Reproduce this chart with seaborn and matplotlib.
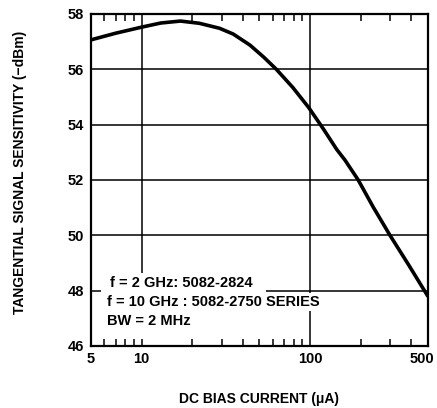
import matplotlib
matplotlib.use("Agg")
import matplotlib.pyplot as plt
import matplotlib.transforms as mtransforms
from matplotlib.patches import Rectangle
import seaborn as sns
import numpy as np
import pandas as pd
from matplotlib.ticker import FixedLocator, NullFormatter

bias_current = [5, 7, 10, 13, 17, 22, 29, 35, 44, 53, 63, 79, 98, 120, 144, 161, 193,
                237, 298, 382, 500]
sensitivity = [57.06, 57.3, 57.52, 57.67, 57.74, 57.66, 57.48, 57.27, 56.87, 56.44, 56.0,
               55.34, 54.62, 53.84, 53.1, 52.72, 52.0, 51.02, 50.0, 48.96, 47.8]
x_ticks = [5, 10, 100, 500]
x_ticklabels = ["5", "10", "100", "500"]
y_ticks = [46, 48, 50, 52, 54, 56, 58]
minor_ticks = [6, 7, 8, 9, 20, 30, 40, 50, 60, 70, 80, 90, 200, 300, 400]
notes = ["f = 2 GHz: 5082-2824", "f = 10 GHz : 5082-2750 SERIES", "BW = 2 MHz"]

sns.set_theme(style="white")
plt.rcParams['font.family'] = ['Liberation Sans', 'DejaVu Sans']
plt.rcParams['text.color'] = 'black'
plt.rcParams['axes.labelcolor'] = 'black'
plt.rcParams['xtick.color'] = 'black'
plt.rcParams['ytick.color'] = 'black'

df = pd.DataFrame({"x": bias_current, "y": sensitivity})

fig = plt.figure(figsize=(4.37, 4.08), dpi=100)
ax = fig.add_axes([0.208, 0.152, 0.771, 0.814])
ax.set_xscale("log")
ax.set_xlim(5, 500)
ax.set_ylim(46, 58)

for yv in y_ticks[1:-1]:
    ax.axhline(yv, color="black", lw=1.1, zorder=1)
for xv in [10, 100]:
    ax.axvline(xv, color="black", lw=1.1, zorder=1)

sns.lineplot(data=df, x="x", y="y", ax=ax, color="black", lw=2.6, zorder=3)

ax.xaxis.set_major_locator(FixedLocator(x_ticks))
ax.set_xticklabels(x_ticklabels)
ax.xaxis.set_minor_locator(FixedLocator(minor_ticks))
ax.xaxis.set_minor_formatter(NullFormatter())
ax.set_yticks(y_ticks)
ax.tick_params(axis="x", which="major", length=0, pad=4, labelsize=10.5)
ax.tick_params(axis="x", which="minor", direction="in", length=5, width=1.1,
               top=True, bottom=True, color="black")
ax.tick_params(axis="y", which="major", length=0, pad=5, labelsize=10.5)
for lab in ax.get_xticklabels() + ax.get_yticklabels():
    lab.set_fontweight("bold")
last = ax.get_xticklabels()[-1]
last.set_transform(last.get_transform() +
                   mtransforms.ScaledTranslation(-4 / 72, 0, fig.dpi_scale_trans))

for s in ax.spines.values():
    s.set_color("black")
    s.set_linewidth(1.6)

ax.set_xlabel("DC BIAS CURRENT (\u03bcA)", fontsize=10, fontweight="bold", labelpad=19)
ax.set_ylabel("TANGENTIAL SIGNAL SENSITIVITY (\u2212dBm)", fontsize=10, fontweight="bold")
ax.yaxis.set_label_coords(-0.19, 0.524)

# white backing behind the annotation block
ax.add_patch(Rectangle((0.03, 0.02), 0.49, 0.2, transform=ax.transAxes,
                       facecolor="white", edgecolor="none", zorder=2))

note_pos = [(0.056, 0.19), (0.047, 0.1325), (0.047, 0.075)]
for txt, (tx, ty) in zip(notes, note_pos):
    ax.text(tx, ty, txt, transform=ax.transAxes, fontsize=10.5, fontweight="bold",
            va="center", ha="left", zorder=4,
            bbox=dict(facecolor="white", edgecolor="none", pad=1.5))

fig.savefig("out.png", dpi=100, facecolor="white")
